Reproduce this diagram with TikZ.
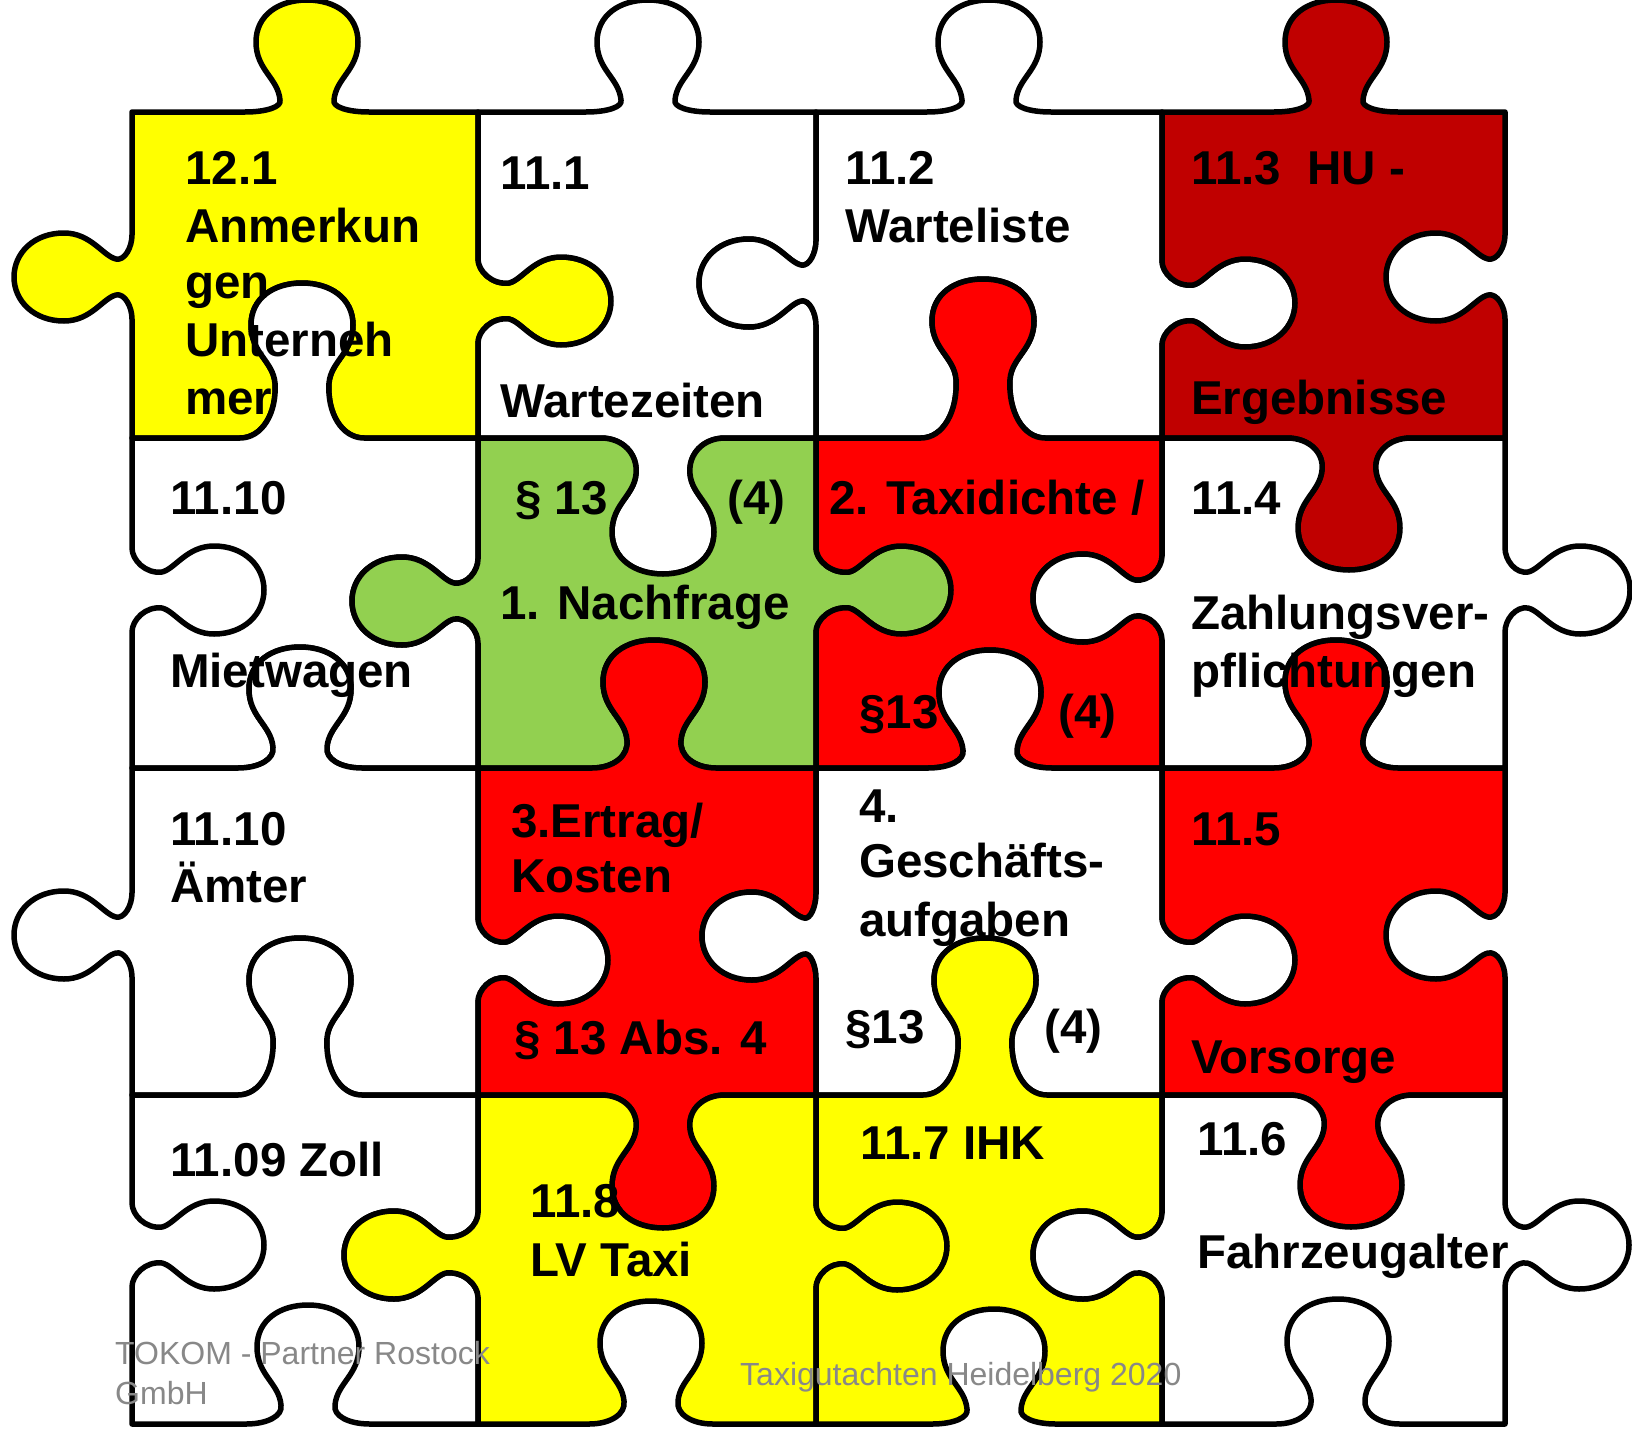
\documentclass[tikz,border=0pt]{standalone}
\usepackage{fontspec}
\setmainfont{Liberation Sans}
\definecolor{pzyellow}{HTML}{FFFF00}
\definecolor{pzgreen}{HTML}{92D050}
\definecolor{pzred}{HTML}{FF0000}
\definecolor{pzdark}{HTML}{C00000}
\definecolor{footgray}{HTML}{888888}
% horizontal knob: centre x, baseline y, travel sign, side sign, height
\newcommand\HK[5]{%
 -- ({#1+(#3)*(-62)},{#2})
 .. controls ({#1+(#3)*(-40)},{#2}) and ({#1+(#3)*(-25)},{#2+(#4)*0.45*(#5-100)}) .. ({#1+(#3)*(-27)},{#2+(#4)*(#5-100)})
 .. controls ({#1+(#3)*(-29)},{#2+(#4)*(#5-78)}) and ({#1+(#3)*(-51)},{#2+(#4)*(#5-70)}) .. ({#1+(#3)*(-51)},{#2+(#4)*(#5-42)})
 .. controls ({#1+(#3)*(-51)},{#2+(#4)*(#5-15)}) and ({#1+(#3)*(-28)},{#2+(#4)*(#5)}) .. ({#1},{#2+(#4)*(#5)})
 .. controls ({#1+(#3)*(28)},{#2+(#4)*(#5)}) and ({#1+(#3)*(51)},{#2+(#4)*(#5-15)}) .. ({#1+(#3)*(51)},{#2+(#4)*(#5-42)})
 .. controls ({#1+(#3)*(51)},{#2+(#4)*(#5-70)}) and ({#1+(#3)*(29)},{#2+(#4)*(#5-78)}) .. ({#1+(#3)*(27)},{#2+(#4)*(#5-100)})
 .. controls ({#1+(#3)*(25)},{#2+(#4)*0.45*(#5-100)}) and ({#1+(#3)*(40)},{#2}) .. ({#1+(#3)*(62)},{#2})}
% vertical knob: baseline x, centre y, travel sign, side sign, height
\newcommand\VK[5]{%
 -- ({#1},{#2+(#3)*(-42)})
 .. controls ({#1},{#2+(#3)*(-30)}) and ({#1+(#4)*0.45*(#5-102)},{#2+(#3)*(-16)}) .. ({#1+(#4)*(#5-102)},{#2+(#3)*(-18)})
 .. controls ({#1+(#4)*(#5-89)},{#2+(#3)*(-21)}) and ({#1+(#4)*(#5-77)},{#2+(#3)*(-44)}) .. ({#1+(#4)*(#5-50)},{#2+(#3)*(-44)})
 .. controls ({#1+(#4)*(#5-20)},{#2+(#3)*(-44)}) and ({#1+(#4)*(#5)},{#2+(#3)*(-24)}) .. ({#1+(#4)*(#5)},{#2})
 .. controls ({#1+(#4)*(#5)},{#2+(#3)*(24)}) and ({#1+(#4)*(#5-20)},{#2+(#3)*(44)}) .. ({#1+(#4)*(#5-50)},{#2+(#3)*(44)})
 .. controls ({#1+(#4)*(#5-77)},{#2+(#3)*(44)}) and ({#1+(#4)*(#5-89)},{#2+(#3)*(21)}) .. ({#1+(#4)*(#5-102)},{#2+(#3)*(18)})
 .. controls ({#1+(#4)*0.45*(#5-102)},{#2+(#3)*(16)}) and ({#1},{#2+(#3)*(30)}) .. ({#1},{#2+(#3)*(42)})}
% horizontal edges (rows A-E, columns a-d)
\newcommand\hAa[1]{\HK{307}{112}{#1}{-1}{112}}
\newcommand\hAb[1]{\HK{648}{112}{#1}{-1}{112}}
\newcommand\hAc[1]{\HK{989}{112}{#1}{-1}{112}}
\newcommand\hAd[1]{\HK{1336}{112}{#1}{-1}{112}}
\newcommand\hBa[1]{\HK{302}{438}{#1}{-1}{155}}
\newcommand\hBb[1]{\HK{663}{438}{#1}{1}{136}}
\newcommand\hBc[1]{\HK{983}{438}{#1}{-1}{159}}
\newcommand\hBd[1]{\HK{1349}{438}{#1}{1}{132}}
\newcommand\hCa[1]{\HK{300}{768}{#1}{-1}{121}}
\newcommand\hCb[1]{\HK{654}{768}{#1}{-1}{128}}
\newcommand\hCc[1]{\HK{990}{768}{#1}{-1}{118}}
\newcommand\hCd[1]{\HK{1336}{768}{#1}{-1}{128}}
\newcommand\hDa[1]{\HK{300}{1095}{#1}{-1}{157}}
\newcommand\hDb[1]{\HK{663}{1095}{#1}{1}{133}}
\newcommand\hDc[1]{\HK{985}{1095}{#1}{-1}{157}}
\newcommand\hDd[1]{\HK{1351}{1095}{#1}{1}{132}}
\newcommand\hEa[1]{\HK{308}{1424}{#1}{-1}{119}}
\newcommand\hEb[1]{\HK{651}{1424}{#1}{-1}{123}}
\newcommand\hEc[1]{\HK{994}{1424}{#1}{-1}{115}}
\newcommand\hEd[1]{\HK{1338}{1424}{#1}{-1}{125}}
% vertical edges (columns A-E, rows a-d)
\newcommand\vAa[1]{\VK{132}{277}{#1}{-1}{118}}
\newcommand\vAb[1]{\VK{132}{590}{#1}{1}{132}}
\newcommand\vAc[1]{\VK{132}{935}{#1}{-1}{118}}
\newcommand\vAd[1]{\VK{132}{1245}{#1}{1}{132}}
\newcommand\vBa[1]{\VK{478}{301}{#1}{1}{133}}
\newcommand\vBb[1]{\VK{478}{601}{#1}{-1}{126}}
\newcommand\vBc[1]{\VK{478}{960}{#1}{1}{130}}
\newcommand\vBd[1]{\VK{478}{1255}{#1}{-1}{134}}
\newcommand\vCa[1]{\VK{816}{283}{#1}{-1}{117}}
\newcommand\vCb[1]{\VK{816}{590}{#1}{1}{135}}
\newcommand\vCc[1]{\VK{816}{936}{#1}{-1}{114}}
\newcommand\vCd[1]{\VK{816}{1246}{#1}{1}{131}}
\newcommand\vDa[1]{\VK{1162}{303}{#1}{1}{133}}
\newcommand\vDb[1]{\VK{1162}{598}{#1}{-1}{129}}
\newcommand\vDc[1]{\VK{1162}{960}{#1}{1}{133}}
\newcommand\vDd[1]{\VK{1162}{1255}{#1}{-1}{129}}
\newcommand\vEa[1]{\VK{1505}{277}{#1}{-1}{119}}
\newcommand\vEb[1]{\VK{1505}{590}{#1}{1}{125}}
\newcommand\vEc[1]{\VK{1505}{935}{#1}{-1}{119}}
\newcommand\vEd[1]{\VK{1505}{1245}{#1}{1}{124}}
% piece: colour, x1, y1, x2, y2, top, right, bottom, left
\newcommand\pz[9]{\filldraw[piece,fill=#1] (#2,#3) #6{1} -- (#4,#3) #7{1} -- (#4,#5) #8{-1} -- (#2,#5) #9{-1} -- cycle;}
\begin{document}
\begin{tikzpicture}[x=1pt,y=-1pt,
  piece/.style={draw=black,line width=5.5pt,line join=round},
  lbl/.style={anchor=base west,inner sep=0pt,font=\fontsize{47.5}{57}\selectfont\bfseries},
  foot/.style={anchor=base west,inner sep=0pt,text=footgray,font=\fontsize{32}{38}\selectfont}]
\useasboundingbox (0,0) rectangle (1632,1440);
\clip (0,0) rectangle (1632,1440);
\fill[white] (0,0) rectangle (1632,1440);
% row 1
\pz{pzyellow}{132}{112}{478}{438}{\hAa}{\vBa}{\hBa}{\vAa}
\pz{white}{478}{112}{816}{438}{\hAb}{\vCa}{\hBb}{\vBa}
\pz{white}{816}{112}{1162}{438}{\hAc}{\vDa}{\hBc}{\vCa}
\pz{pzdark}{1162}{112}{1505}{438}{\hAd}{\vEa}{\hBd}{\vDa}
% row 2
\pz{white}{132}{438}{478}{768}{\hBa}{\vBb}{\hCa}{\vAb}
\pz{pzgreen}{478}{438}{816}{768}{\hBb}{\vCb}{\hCb}{\vBb}
\pz{pzred}{816}{438}{1162}{768}{\hBc}{\vDb}{\hCc}{\vCb}
\pz{white}{1162}{438}{1505}{768}{\hBd}{\vEb}{\hCd}{\vDb}
% row 3
\pz{white}{132}{768}{478}{1095}{\hCa}{\vBc}{\hDa}{\vAc}
\pz{pzred}{478}{768}{816}{1095}{\hCb}{\vCc}{\hDb}{\vBc}
\pz{white}{816}{768}{1162}{1095}{\hCc}{\vDc}{\hDc}{\vCc}
\pz{pzred}{1162}{768}{1505}{1095}{\hCd}{\vEc}{\hDd}{\vDc}
% row 4
\pz{white}{132}{1095}{478}{1424}{\hDa}{\vBd}{\hEa}{\vAd}
\pz{pzyellow}{478}{1095}{816}{1424}{\hDb}{\vCd}{\hEb}{\vBd}
\pz{pzyellow}{816}{1095}{1162}{1424}{\hDc}{\vDd}{\hEc}{\vCd}
\pz{white}{1162}{1095}{1505}{1424}{\hDd}{\vEd}{\hEd}{\vDd}
% texts row 1
\node[lbl] (t01) at (185,184) {12.1};
\node[lbl] (t02) at (185,242) {Anmerkun};
\node[lbl] (t03) at (185,298) {gen};
\node[lbl] (t04) at (185,356) {Unterneh};
\node[lbl] (t05) at (185,414) {mer};
\node[lbl] (t06) at (500,189) {11.1};
\node[lbl] (t07) at (500,417) {Wartezeiten};
\node[lbl] (t08) at (845,184) {11.2};
\node[lbl] (t09) at (845,242) {Warteliste};
\node[lbl] (t10) at (1191,184) {11.3\ \ HU -};
\node[lbl] (t11) at (1191,414) {Ergebnisse};
% texts row 2
\node[lbl] (t12) at (170,514) {11.10};
\node[lbl] (t13) at (170,687) {Mietwagen};
\node[lbl] (t14) at (515,514) {§ 13};
\node[lbl] (t15) at (727,514) {(4)};
\node[lbl] (t16) at (500,619) {1. Nachfrage};
\node[lbl] (t17) at (829,514) {2. Taxidichte /};
\node[lbl] (t18) at (859,728) {§13};
\node[lbl] (t19) at (1058,728) {(4)};
\node[lbl] (t20) at (1191,514) {11.4};
\node[lbl] (t21) at (1191,629) {Zahlungsver-};
\node[lbl] (t22) at (1191,687) {pflichtungen};
% texts row 3
\node[lbl] (t23) at (170,845) {11.10};
\node[lbl] (t24) at (170,902) {Ämter};
\node[lbl] (t25) at (511,837) {3.Ertrag/};
\node[lbl] (t26) at (511,892) {Kosten};
\node[lbl] (t27) at (514,1054) {§ 13 Abs. 4};
\node[lbl] (t28) at (859,822) {4.};
\node[lbl] (t29) at (859,877) {Geschäfts-};
\node[lbl] (t30) at (859,936) {aufgaben};
\node[lbl] (t31) at (845,1043) {§13};
\node[lbl] (t32) at (1044,1043) {(4)};
\node[lbl] (t33) at (1191,845) {11.5};
\node[lbl] (t34) at (1191,1073) {Vorsorge};
% texts row 4
\node[lbl] (t35) at (170,1176) {11.09 Zoll};
\node[lbl] (t36) at (530,1217) {11.8};
\node[lbl] (t37) at (530,1276) {LV Taxi};
\node[lbl] (t38) at (860,1159) {11.7 IHK};
\node[lbl] (t39) at (1197,1155) {11.6};
\node[lbl] (t40) at (1197,1268) {Fahrzeugalter};
% footer
\node[foot] (f1) at (115,1364) {TOKOM - Partner Rostock};
\node[foot] (f2) at (115,1404) {GmbH};
\node[foot] (f3) at (740,1385) {Taxigutachten Heidelberg 2020};
\end{tikzpicture}
\end{document}
